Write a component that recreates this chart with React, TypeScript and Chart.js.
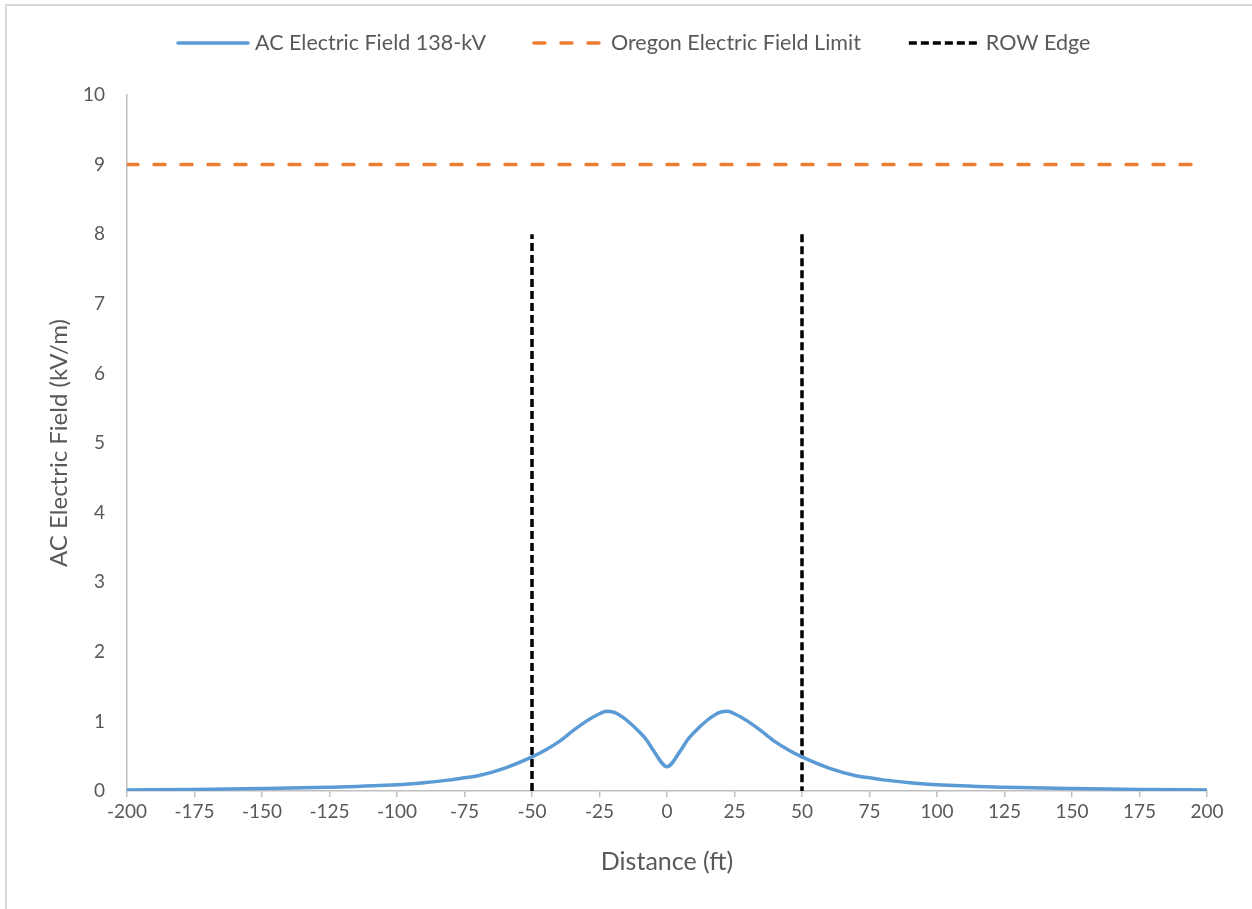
import { useEffect, useRef } from "react";
import { Chart, registerables } from "chart.js";

Chart.register(...registerables);

// ---- data ----
const distanceFt = [
  -200, -175, -150, -125, -100, -90, -80, -75, -70, -60, -50, -45, -40, -35, -30, -25, -22.5, -20, -17.5, -15, -10, -7.5, -5, 0,
  5, 7.5, 10, 15, 17.5, 20, 22.5, 25, 30, 35, 40, 45, 50, 60, 70, 75, 80, 90, 100, 125, 150, 175, 200,
];
const fieldKVm = [
  0.015, 0.022, 0.035, 0.055, 0.09, 0.12, 0.16, 0.19, 0.22, 0.33, 0.49, 0.59, 0.71, 0.86, 1.0, 1.11, 1.145, 1.135, 1.09, 1.02, 0.84, 0.73, 0.58, 0.35,
  0.58, 0.73, 0.84, 1.02, 1.09, 1.135, 1.145, 1.11, 1.0, 0.86, 0.71, 0.59, 0.49, 0.33, 0.22, 0.19, 0.16, 0.12, 0.09, 0.055, 0.035, 0.022, 0.015,
];
const limitX = [-200, 200];
const limitY = [9, 9];
const rowX = [-50, -50, 0, 50, 50];
const rowY: (number | null)[] = [0, 8, null, 8, 0];

const seriesNames = ["AC Electric Field 138-kV", "Oregon Electric Field Limit", "ROW Edge"];
const xTitle = "Distance (ft)";
const yTitle = "AC Electric Field (kV/m)";

const FONT = "Lato";
const TEXT = "#595959";
const AXIS = "#bfbfbf";
const BLUE = "#5b9bd5";
const ORANGE = "#ed7d31";
const BLACK = "#000000";
const ORANGE_DASH = [11, 16];
const BLACK_DASH = [8, 4];

const legendPlugin = {
  id: "excelLegend",
  afterDraw(chart: any) {
    const ctx = chart.ctx as CanvasRenderingContext2D;
    const styles = [
      { color: BLUE, dash: [] as number[], width: 3.5, cap: "round" as CanvasLineCap },
      { color: ORANGE, dash: ORANGE_DASH, width: 3.5, cap: "round" as CanvasLineCap },
      { color: BLACK, dash: BLACK_DASH, width: 3.5, cap: "butt" as CanvasLineCap },
    ];
    ctx.save();
    ctx.font = `21.5px ${FONT}`;
    ctx.textBaseline = "middle";
    const y = 43;
    const keyW = 70;
    let x = 178;
    seriesNames.forEach((name, i) => {
      const s = styles[i];
      ctx.beginPath();
      ctx.setLineDash(s.dash);
      ctx.lineCap = s.cap;
      ctx.lineWidth = s.width;
      ctx.strokeStyle = s.color;
      ctx.moveTo(x, y);
      ctx.lineTo(x + keyW, y);
      ctx.stroke();
      ctx.setLineDash([]);
      ctx.fillStyle = TEXT;
      ctx.textAlign = "left";
      ctx.fillText(name, x + keyW + 7, y);
      x += keyW + 7 + ctx.measureText(name).width + 48;
    });
    ctx.restore();
  },
};

export default function App() {
  const ref = useRef<HTMLCanvasElement | null>(null);
  useEffect(() => {
    if (!ref.current) return;
    const tickFont = { family: FONT, size: 19 };
    const chart = new Chart(ref.current, {
      type: "line",
      data: {
        datasets: [
          {
            label: seriesNames[0],
            data: distanceFt.map((d, i) => ({ x: d, y: fieldKVm[i] })),
            borderColor: BLUE,
            borderWidth: 3.5,
            pointRadius: 0,
            cubicInterpolationMode: "monotone",
            fill: false,
          },
          {
            label: seriesNames[1],
            data: limitX.map((d, i) => ({ x: d, y: limitY[i] })),
            borderColor: ORANGE,
            borderWidth: 3.5,
            borderDash: ORANGE_DASH,
            borderCapStyle: "round",
            pointRadius: 0,
            tension: 0,
            fill: false,
          },
          {
            label: seriesNames[2],
            data: rowX.map((d, i) => ({ x: d, y: rowY[i] })) as any,
            borderColor: BLACK,
            borderWidth: 3.5,
            borderDash: BLACK_DASH,
            pointRadius: 0,
            tension: 0,
            spanGaps: false,
            fill: false,
          },
        ],
      },
      options: {
        animation: false,
        responsive: false,
        maintainAspectRatio: false,
        layout: { padding: { top: 95, right: 45, left: 0, bottom: 0 } },
        plugins: { legend: { display: false }, tooltip: { enabled: false } },
        scales: {
          x: {
            type: "linear",
            min: -200,
            max: 200,
            ticks: { stepSize: 25, color: TEXT, font: tickFont, padding: 3, maxRotation: 0, autoSkip: false },
            grid: { drawOnChartArea: false, drawTicks: true, tickLength: 6, color: AXIS, lineWidth: 1.5 },
            border: { color: AXIS, width: 1.5 },
            title: {
              display: true,
              text: xTitle,
              color: TEXT,
              font: { family: FONT, size: 25 },
              padding: { top: 0, bottom: 32 },
            },
            afterFit: (s: any) => {
              s.height = 118;
            },
          },
          y: {
            min: 0,
            max: 10,
            ticks: { stepSize: 1, color: TEXT, font: tickFont, padding: 22 },
            grid: { drawOnChartArea: false, drawTicks: false },
            border: { color: AXIS, width: 1.5 },
            title: {
              display: true,
              text: yTitle,
              color: TEXT,
              font: { family: FONT, size: 24 },
              padding: { top: 45, bottom: 0 },
            },
            afterFit: (s: any) => {
              s.width = 127;
            },
          },
        },
      },
      plugins: [legendPlugin],
    });
    return () => chart.destroy();
  }, []);

  return (
    <div style={{ position: "fixed", left: 0, top: 0, width: 1252, height: 909, background: "#fff", overflow: "hidden" }}>
      <div
        style={{
          position: "absolute",
          left: 5,
          top: 4,
          width: 1400,
          height: 1100,
          border: "2px solid #d9d9d9",
          boxSizing: "border-box",
        }}
      />
      <canvas ref={ref} width={1252} height={909} style={{ position: "absolute", left: 0, top: 0, display: "block" }} />
    </div>
  );
}
